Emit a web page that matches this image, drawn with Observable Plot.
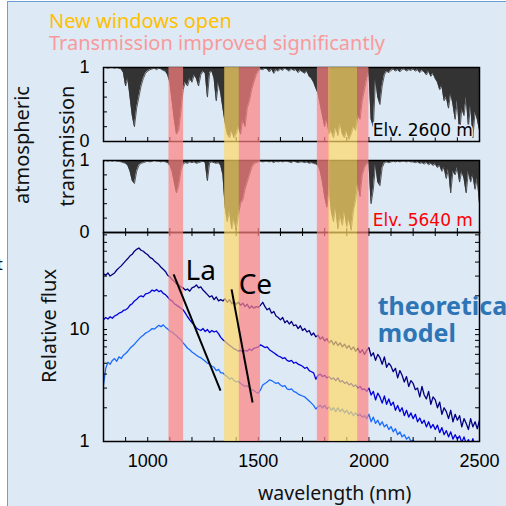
<!DOCTYPE html>
<html><head><meta charset="utf-8">
<script src="https://cdn.jsdelivr.net/npm/d3@7"></script>
<script src="https://cdn.jsdelivr.net/npm/@observablehq/plot@0.6"></script>
<style>
html,body{margin:0;padding:0;background:#fff;}
#wrap{position:relative;width:506px;height:506px;overflow:hidden;}
#bg{position:absolute;left:7px;top:1px;right:0;bottom:0;background:#dde9f5;border-left:1.5px solid #6a9fd8;border-top:1.5px solid #6a9fd8;}
.layer{position:absolute;left:0;top:0;}
.lbl{position:absolute;font-family:"Noto Sans";white-space:nowrap;line-height:1;}
.rot{transform:translate(-50%,-50%) rotate(-90deg);}
</style></head><body>
<div id="wrap"><div id="bg"></div></div>
<script>
// ---- data ----
const wavelengths = d3.range(800, 2501, 10);
// atmospheric transmission, Elv. 2600 m
const trans2600 = [
 1,1,0.99,1,1,0.99,1,0.99,0.98,0.93,
 0.75,0.85,0.6,0.35,0.2,0.45,0.6,0.75,0.85,0.92,
 0.95,0.97,0.98,0.99,0.97,0.99,0.98,0.96,0.95,0.9,
 0.8,0.55,0.3,0.1,0.15,0.4,0.7,0.8,0.75,0.85,
 0.8,0.9,0.85,0.75,0.9,0.95,0.92,0.6,0.93,0.95,
 0.85,0.55,0.8,0.65,0.45,0.25,0.1,0.05,0.15,0.05,
 0.1,0.2,0.1,0.3,0.2,0.45,0.55,0.7,0.8,0.9,
 0.95,0.98,0.97,0.99,0.98,0.94,0.98,0.92,0.97,0.95,
 0.98,0.96,0.99,0.97,0.95,0.98,0.96,0.97,0.93,0.96,
 0.94,0.92,0.95,0.88,0.85,0.8,0.72,0.65,0.5,0.35,
 0.2,0.3,0.1,0.15,0.05,0.2,0.08,0.25,0.1,0.05,
 0.15,0.03,0.1,0.2,0.15,0.35,0.3,0.55,0.7,0.85,
 0.95,0.3,0.2,0.85,0.6,0.5,0.75,0.9,0.95,0.93,
 0.96,0.98,0.95,0.97,0.94,0.97,0.98,0.95,0.97,0.96,
 0.98,0.95,0.97,0.93,0.96,0.94,0.9,0.95,0.88,0.92,
 0.85,0.8,0.7,0.75,0.55,0.6,0.45,0.65,0.5,0.3,
 0.55,0.1,0.45,0.35,0.6,0.2,0.5,0.05,0.4,0.3,
 0.15];
// atmospheric transmission, Elv. 5640 m
const trans5640 = [
 0.99,1,0.99,1,0.99,1,0.99,0.99,0.98,0.97,
 0.96,0.93,0.85,0.72,0.68,0.85,0.93,0.96,0.97,0.98,
 0.99,0.98,0.99,1,0.99,0.99,0.98,0.99,0.98,0.97,
 0.93,0.85,0.7,0.55,0.65,0.85,0.95,0.97,0.96,0.98,
 0.97,0.98,0.96,0.97,0.98,0.99,0.97,0.72,0.97,0.98,
 0.97,0.96,0.97,0.93,0.8,0.35,0.15,0.3,0.05,0.2,
 0.03,0.25,0.4,0.45,0.6,0.7,0.8,0.9,0.95,0.97,
 0.98,0.99,0.98,0.99,0.99,0.98,0.99,0.97,0.99,0.98,
 0.99,0.98,0.99,0.99,0.98,0.97,0.99,0.98,0.97,0.98,
 0.98,0.97,0.98,0.96,0.97,0.96,0.95,0.93,0.85,0.7,
 0.5,0.35,0.6,0.3,0.15,0.35,0.05,0.25,0.1,0.3,
 0.08,0.2,0.03,0.3,0.45,0.7,0.5,0.8,0.9,0.95,
 0.97,0.4,0.6,0.95,0.7,0.65,0.9,0.97,0.98,0.97,
 0.98,0.99,0.98,0.99,0.98,0.99,0.99,0.98,0.99,0.98,
 0.98,0.97,0.98,0.96,0.97,0.95,0.97,0.94,0.96,0.93,
 0.95,0.9,0.93,0.85,0.9,0.75,0.88,0.55,0.85,0.8,
 0.9,0.7,0.85,0.75,0.55,0.85,0.7,0.8,0.6,0.75,
 0.4];
// theoretical model relative flux (three curves)
const fluxTop = [
 31.5,30.5,32,30,31,32,34,35.5,37,39,
 41,43,45.5,47,50,52,53.5,51,50,48,
 46.5,44,43,41,39.5,38,36,34.5,33,30.5,
 29.5,28,27,25.5,25,24,23.5,22.5,23,22,
 23.5,24,25,23.5,24,22.5,21.5,20.5,19.5,20,
 18.5,19.5,18,18.5,18,18.8,17.5,18.5,17,17.8,
 16.8,17.5,16.5,17.2,16,16.8,15.5,16.2,15.5,16,
 15.8,16.5,17.5,16,15,15.5,14,14.5,13.2,12.8,
 12.2,12.8,11.5,12,11.2,11.8,10.8,11,10.2,10.8,
 9.8,10.2,9.5,9.8,8.9,9.3,8.6,8.9,8.2,8.6,
 7.9,8.3,7.6,8,7.3,7.8,7.2,7.6,7,7.4,
 6.8,7.2,6.6,7,6.4,6.8,6.2,6.6,6,6.5,
 6.9,5.8,6.2,5.3,6.0,5.6,4.9,5.7,4.6,5.0,
 4.7,4.2,4.5,3.7,4.3,3.9,3.4,3.8,3.1,3.5,
 3.3,2.9,3.0,2.5,3.1,2.6,2.4,2.8,2.15,2.5,
 2.35,2.0,2.25,1.75,2.0,1.85,1.6,1.9,1.5,1.75,
 1.55,1.7,1.35,1.6,1.45,1.28,1.6,1.35,1.5,1.3,
 1.55];
const fluxMid = [
 12.2,12.8,12.4,13,12.6,13.2,13.5,14,14.2,14.8,
 15,15.5,16.5,17,18,18.6,19.5,20,19.6,20.8,
 21,21.5,22.5,22,22.8,21.8,22.2,21,20.5,19.5,
 18.5,18,17,16.5,16,15.5,15,14,13,12.2,
 11.5,11,10.3,10,9.8,10.2,9.6,10,9.4,9.8,
 9.5,9.7,9.2,8.5,8.1,7.8,7.5,7.2,7,6.7,
 6.6,6.4,6.5,6.3,6.5,6.4,6.7,6.5,6.8,6.9,
 7,7.3,7.1,6.9,7,6.6,6.4,6.2,6,5.8,
 5.7,5.5,5.6,5.3,5.2,5.3,5,5.1,4.9,4.8,
 4.7,4.5,4.6,4.3,4.2,4.1,3.6,3.9,4,3.8,
 3.9,3.7,3.8,3.6,3.7,3.5,3.7,3.4,3.5,3.3,
 3.4,3.2,3.3,3.1,3.2,3,3.1,2.9,2.95,2.8,
 3.0,2.6,2.8,2.35,2.7,2.5,2.2,2.55,2.15,2.4,
 2.1,2.25,1.9,2.1,1.85,2.0,1.7,1.9,1.65,1.8,
 1.6,1.75,1.5,1.62,1.45,1.55,1.35,1.5,1.32,1.42,
 1.28,1.4,1.2,1.33,1.15,1.25,1.1,1.22,1.05,1.15,
 1.05,1.12,0.98,1.1,0.96,1.04,0.92,1.06,0.9,1.0,
 0.95];
const fluxLow = [
 3.2,4.5,5.1,4.9,5.3,5.5,5.2,5.7,5.5,5.9,
 6.1,6.4,6.8,7.1,7.4,7.8,8.2,8.6,8.9,9.3,
 9.5,9.8,10.2,10.1,10.5,10.9,10.6,11,10.5,10.1,
 9.7,9.5,9.1,8.8,8.4,8.1,7.6,7.2,6.8,6.6,
 6.3,6.1,5.9,5.7,5.6,5.4,5.2,5.0,4.9,4.7,
 4.6,4.3,4.4,4.1,4.1,3.9,3.8,3.6,3.7,3.5,
 3.4,3.45,3.3,3.2,3.1,3.15,3.0,2.9,2.85,2.75,
 2.7,2.9,3.2,3.3,3.4,3.55,3.5,3.4,3.3,3.35,
 3.2,3.1,3.15,2.95,2.9,2.95,2.8,2.75,2.65,2.6,
 2.55,2.5,2.4,2.3,2.2,2.1,1.95,2.05,2.1,2.0,
 2.1,1.95,2.05,1.9,2.0,1.85,2.0,1.85,1.95,1.8,
 1.9,1.75,1.85,1.7,1.8,1.7,1.75,1.65,1.7,1.6,
 1.75,1.5,1.65,1.45,1.55,1.4,1.5,1.35,1.42,1.28,
 1.36,1.22,1.3,1.15,1.22,1.1,1.15,1.05,1.1,1.0,
 1.03,0.95,0.98,0.92,0.96,0.9,0.93,0.88,0.92,0.86,
 0.9,0.85,0.88,0.83,0.86,0.8,0.84,0.78,0.82,0.76,
 0.8,0.75,0.78,0.73,0.76,0.7,0.74,0.68,0.72,0.66,
 0.7];
// highlighted wavelength windows
const bandStart = [1096, 1413, 1767, 1949, 1348, 1819];
const bandEnd   = [1162, 1510, 1823, 2000, 1414, 1949];
const bandKind  = ["improved","improved","improved","improved","new","new"];
// element feature annotations
const featureNames = ["La", "Ce"];
const featureX1 = [1117, 1379], featureY1 = [31, 22.8];
const featureX2 = [1329, 1474], featureY2 = [2.85, 2.23];
const xTickLabels = [1000, 1500, 2000, 2500];
const xMinorTicks = d3.range(900, 2500, 100);
const transMinor = [0.2, 0.4, 0.6, 0.8];
const fluxMinor = [2,3,4,5,6,7,8,9,10,20,30,40,50,60,70];

// ---- build ----
const W = 506, ML = 103, MR = 27;
const xDom = [800, 2500];
const bg = "#dde9f5";
const baseStyle = {background: "transparent", fontFamily: "Liberation Sans", fontSize: "18px", color: "black", overflow: "visible"};
const wrap = document.getElementById("wrap");
function add(el){ el.classList.add("layer"); wrap.appendChild(el); }

const t1 = wavelengths.map((w,i)=>({wl:w, t:trans2600[i]}));
const t2 = wavelengths.map((w,i)=>({wl:w, t:trans5640[i]}));
const flux = [];
[["top",fluxTop],["mid",fluxMid],["low",fluxLow]].forEach(([k,arr])=>{
  wavelengths.forEach((w,i)=>flux.push({wl:w, v:arr[i], s:k}));
});

function transPanel(rows, top, bottom, elv, elvColor, elvY){
  const h = bottom - top;
  return Plot.plot({
    width: W, height: 506, marginTop: top, marginBottom: 506-bottom, marginLeft: ML, marginRight: MR,
    style: baseStyle,
    x: {domain: xDom, axis: null},
    y: {domain: [0, 1]},
    marks: [
      Plot.areaY(rows, {x: "wl", y1: "t", y2: 1, fill: "#333", clip: true}),
      Plot.lineY(rows, {x: "wl", y: "t", stroke: "#333", strokeWidth: 0.8, clip: true}),
      Plot.ruleX(xMinorTicks, {insetTop: h-4, stroke: "black"}),
      Plot.ruleY(transMinor, {insetRight: (W-ML-MR)-4, stroke: "black"}),
      Plot.axisY({ticks: [0,1], tickSize: 0, tickPadding: 14, tickFormat: d=>String(d), label: null, fontSize: 18}),
      Plot.text([elv], {x: 2017, y: elvY, text: d=>d, textAnchor: "start", lineAnchor: "middle",
        fontFamily: "DejaVu Sans", fontSize: 17, fill: elvColor, stroke: bg, strokeWidth: 3}),
      Plot.frame({stroke: "black", strokeWidth: 1.5})
    ]
  });
}
add(transPanel(t1, 67, 141, "Elv. 2600 m", "black", 0.15));
add(transPanel(t2, 160, 232, "Elv. 5640 m", "#ff0000", 0.167));

const fluxScaleY = {type: "log", domain: [1, 73.5]};
add(Plot.plot({
  width: W, height: 506, marginTop: 232, marginBottom: 65, marginLeft: ML, marginRight: MR,
  style: baseStyle,
  x: {domain: xDom},
  y: fluxScaleY,
  color: {domain: ["top","mid","low"], range: ["#000080","#0000dd","#1a6bff"]},
  marks: [
    Plot.lineY(flux, {x: "wl", y: "v", z: "s", stroke: "s", strokeWidth: 1.3, clip: true}),
    Plot.ruleX(xMinorTicks, {insetTop: 205, stroke: "black"}),
    Plot.ruleX(xMinorTicks, {insetBottom: 205, stroke: "black"}),
    Plot.ruleY(fluxMinor, {insetRight: 372, stroke: "black"}),
    Plot.ruleY(fluxMinor, {insetLeft: 372, stroke: "black"}),
    Plot.axisY({ticks: [1,10], tickSize: 0, tickPadding: 14, tickFormat: d=>String(d), label: null, fontSize: 18}),
    Plot.axisX({ticks: xTickLabels, tickSize: 0, tickPadding: 13, tickFormat: d=>String(d), label: null, fontSize: 18}),
    Plot.frame({stroke: "black", strokeWidth: 1.5})
  ]
}));

// bands overlay spanning all three panels
const bands = bandStart.map((a,i)=>({a, b: bandEnd[i], k: bandKind[i]}));
add(Plot.plot({
  width: W, height: 506, marginTop: 67, marginBottom: 65, marginLeft: ML, marginRight: MR,
  style: baseStyle,
  x: {domain: xDom, axis: null},
  marks: [
    Plot.rect(bands, {x1: "a", x2: "b", fill: d => d.k === "new" ? "#ffd966" : "#ff8080", fillOpacity: 0.7})
  ]
}));

// annotations
const feats = featureNames.map((n,i)=>({n, x1: featureX1[i], y1: featureY1[i], x2: featureX2[i], y2: featureY2[i]}));
add(Plot.plot({
  width: W, height: 506, marginTop: 232, marginBottom: 65, marginLeft: ML, marginRight: MR,
  style: baseStyle,
  x: {domain: xDom, axis: null},
  y: {...fluxScaleY, axis: null},
  marks: [
    Plot.link(feats, {x1: "x1", y1: "y1", x2: "x2", y2: "y2", stroke: "black", strokeWidth: 2}),
    Plot.text(feats, {x: d => d.n === "La" ? 1171 : 1411, y: d => d.n === "La" ? 27.4 : 20.96, text: "n",
      textAnchor: "start", lineAnchor: "bottom", fontFamily: "Noto Sans", fontSize: 28, fill: "black"}),
    Plot.text(["theoretical", "model"], {x: 2040, y: d => d === "model" ? 7.8 : 13.6, text: d=>d,
      textAnchor: "start", lineAnchor: "bottom", fontFamily: "Noto Sans", fontWeight: "bold", fontSize: 25, fill: "#2e75b6"})
  ]
}));

// html labels
function lbl(text, css, cls){
  const d = document.createElement("div");
  d.className = "lbl" + (cls ? " " + cls : "");
  d.textContent = text;
  Object.assign(d.style, css);
  wrap.appendChild(d);
}
lbl("New windows open", {left: "49px", top: "11px", fontSize: "20px", color: "#ffc000"});
lbl("Transmission improved significantly", {left: "49px", top: "33px", fontSize: "20px", color: "#f99a9a"});
lbl("atmospheric", {left: "22px", top: "145px", fontSize: "20px", color: "#111"}, "rot");
lbl("transmission", {left: "67px", top: "146px", fontSize: "20px", color: "#111"}, "rot");
lbl("Relative flux", {left: "49px", top: "326px", fontSize: "20px", color: "#111"}, "rot");
lbl("wavelength (nm)", {left: "258px", top: "483px", fontSize: "19.5px", color: "#111"});
lbl("t", {left: "-3px", top: "256px", fontSize: "16px", color: "#111"});
</script>
</body></html>
